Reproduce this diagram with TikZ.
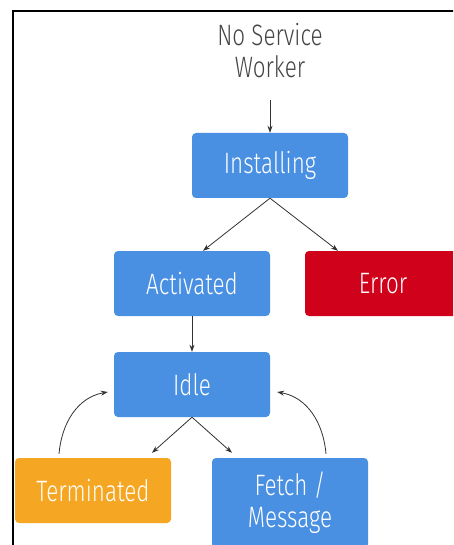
\documentclass[tikz,border=0pt]{standalone}
\usepackage{fontspec}
\setmainfont{Fira Sans}[UprightFont=* Light, FakeStretch=0.76]
\usetikzlibrary{arrows.meta}
\definecolor{boxblue}{HTML}{4A90E2}
\definecolor{boxred}{HTML}{D0021B}
\definecolor{boxorange}{HTML}{F5A623}
\definecolor{txtgray}{HTML}{444444}
\definecolor{arrgray}{HTML}{333333}
\tikzset{
  statebox/.style={rounded corners=4pt, minimum width=156pt, minimum height=65pt,
    text=white, align=center, font=\fontsize{29.5}{32}\selectfont, inner sep=0pt},
  arr/.style={draw=arrgray, line width=0.8pt, -{Stealth[length=7pt,width=5pt]}},
}
\begin{document}
\begin{tikzpicture}[x=1pt,y=-1pt]
\clip (0,0) rectangle (453,545);
\fill[white] (0,0) rectangle (453,545);
\draw[line width=1.8pt] (13,570) -- (13,11) -- (480,11);
\node[align=center, text=txtgray, font=\fontsize{29.5}{32}\selectfont, inner sep=0pt, minimum height=98pt] (nsw) at (270,51) {No Service\\Worker};
\node[statebox, fill=boxblue] (inst) at (270,165.5) {Installing};
\node[statebox, fill=boxblue] (act) at (192,283.5) {Activated};
\node[statebox, fill=boxred] (err) at (383,283.5) {Error};
\node[statebox, fill=boxblue] (idle) at (192,384.5) {Idle};
\node[statebox, fill=boxorange] (term) at (93,490.5) {Terminated};
\node[statebox, fill=boxblue, minimum height=90pt] (fetch) at (290,503) {Fetch /\\Message};
\draw[arr] (nsw.south) -- (inst.north);
\draw[arr] (inst.south) -- ([xshift=11pt]act.north);
\draw[arr] (inst.south) -- ([xshift=-45pt]err.north);
\draw[arr] (act.south) -- (idle.north);
\draw[arr] (idle.south) -- ([xshift=59pt,yshift=5pt]term.north);
\draw[arr] (idle.south) -- ([xshift=-58pt,yshift=5pt]fetch.north);
\draw[arr] ([xshift=-34pt,yshift=4pt]term.north) to[out=85,in=190] ([xshift=-6pt,yshift=-7.5pt]idle.west);
\draw[arr] ([xshift=36pt,yshift=4pt]fetch.north) to[out=95,in=-10] ([xshift=7pt,yshift=-7.5pt]idle.east);
\end{tikzpicture}
\end{document}
